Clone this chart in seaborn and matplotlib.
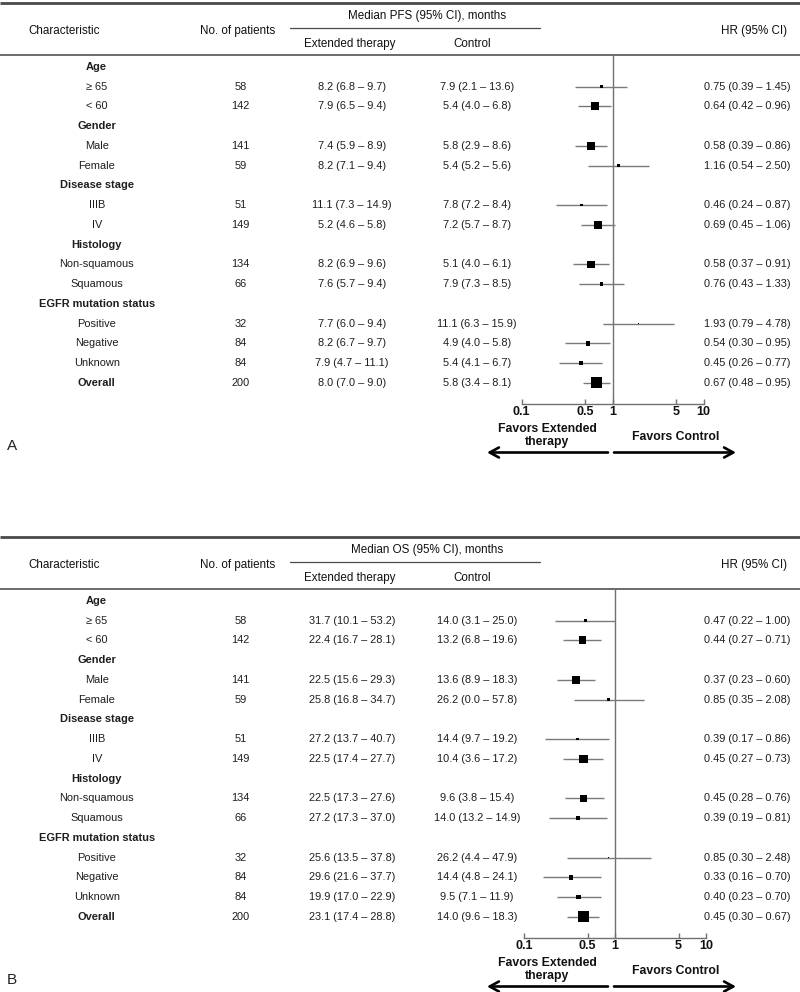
import matplotlib
matplotlib.use('Agg')
import matplotlib.pyplot as plt
import seaborn as sns
import pandas as pd
import numpy as np
from matplotlib import font_manager

sns.set_theme(style='white')
_names = {f.name for f in font_manager.fontManager.ttflist}
BASE = 'Liberation Sans' if 'Liberation Sans' in _names else 'DejaVu Sans'
NARROW = 'Liberation Sans Narrow' if 'Liberation Sans Narrow' in _names else BASE
plt.rcParams['font.family'] = [BASE, 'DejaVu Sans']

# ---------------- data ----------------
labels = ['Age', '\u2265 65', '< 60', 'Gender', 'Male', 'Female', 'Disease stage', 'IIIB', 'IV',
          'Histology', 'Non-squamous', 'Squamous', 'EGFR mutation status', 'Positive',
          'Negative', 'Unknown', 'Overall']
bold_rows = ['Age', 'Gender', 'Disease stage', 'Histology', 'EGFR mutation status', 'Overall']
n_patients = ['', '58', '142', '', '141', '59', '', '51', '149', '', '134', '66', '', '32', '84', '84', '200']

pfs_ext = ['8.2 (6.8 \u2013 9.7)', '7.9 (6.5 \u2013 9.4)', '7.4 (5.9 \u2013 8.9)', '8.2 (7.1 \u2013 9.4)',
           '11.1 (7.3 \u2013 14.9)', '5.2 (4.6 \u2013 5.8)', '8.2 (6.9 \u2013 9.6)', '7.6 (5.7 \u2013 9.4)',
           '7.7 (6.0 \u2013 9.4)', '8.2 (6.7 \u2013 9.7)', '7.9 (4.7 \u2013 11.1)', '8.0 (7.0 \u2013 9.0)']
pfs_ctrl = ['7.9 (2.1 \u2013 13.6)', '5.4 (4.0 \u2013 6.8)', '5.8 (2.9 \u2013 8.6)', '5.4 (5.2 \u2013 5.6)',
            '7.8 (7.2 \u2013 8.4)', '7.2 (5.7 \u2013 8.7)', '5.1 (4.0 \u2013 6.1)', '7.9 (7.3 \u2013 8.5)',
            '11.1 (6.3 \u2013 15.9)', '4.9 (4.0 \u2013 5.8)', '5.4 (4.1 \u2013 6.7)', '5.8 (3.4 \u2013 8.1)']
pfs_hr = [0.75, 0.64, 0.58, 1.16, 0.46, 0.69, 0.58, 0.76, 1.93, 0.54, 0.45, 0.67]
pfs_lo = [0.39, 0.42, 0.39, 0.54, 0.24, 0.45, 0.37, 0.43, 0.79, 0.30, 0.26, 0.48]
pfs_hi = [1.45, 0.96, 0.86, 2.50, 0.87, 1.06, 0.91, 1.33, 4.78, 0.95, 0.77, 0.95]

os_ext = ['31.7 (10.1 \u2013 53.2)', '22.4 (16.7 \u2013 28.1)', '22.5 (15.6 \u2013 29.3)', '25.8 (16.8 \u2013 34.7)',
          '27.2 (13.7 \u2013 40.7)', '22.5 (17.4 \u2013 27.7)', '22.5 (17.3 \u2013 27.6)', '27.2 (17.3 \u2013 37.0)',
          '25.6 (13.5 \u2013 37.8)', '29.6 (21.6 \u2013 37.7)', '19.9 (17.0 \u2013 22.9)', '23.1 (17.4 \u2013 28.8)']
os_ctrl = ['14.0 (3.1 \u2013 25.0)', '13.2 (6.8 \u2013 19.6)', '13.6 (8.9 \u2013 18.3)', '26.2 (0.0 \u2013 57.8)',
           '14.4 (9.7 \u2013 19.2)', '10.4 (3.6 \u2013 17.2)', '9.6 (3.8 \u2013 15.4)', '14.0 (13.2 \u2013 14.9)',
           '26.2 (4.4 \u2013 47.9)', '14.4 (4.8 \u2013 24.1)', '9.5 (7.1 \u2013 11.9)', '14.0 (9.6 \u2013 18.3)']
os_hr = [0.47, 0.44, 0.37, 0.85, 0.39, 0.45, 0.45, 0.39, 0.85, 0.33, 0.40, 0.45]
os_lo = [0.22, 0.27, 0.23, 0.35, 0.17, 0.27, 0.28, 0.19, 0.30, 0.16, 0.23, 0.30]
os_hi = [1.00, 0.71, 0.60, 2.08, 0.86, 0.73, 0.76, 0.81, 2.48, 0.70, 0.70, 0.67]

x_ticks = [0.1, 0.5, 1, 5, 10]
x_ticklabels = ['0.1', '0.5', '1', '5', '10']

# ---------------- layout ----------------
W, H = 800, 992
fig = plt.figure(figsize=(W / 100, H / 100), dpi=100)
fig.patch.set_facecolor('white')

bg = fig.add_axes([0, 0, 1, 1])
bg.set_xlim(0, W)
bg.set_ylim(H, 0)
bg.axis('off')

GRAY = '#707070'
TXT = '#1e1e1e'
FS = 7.9


def panel(off, x0, x1, endpoint, ext, ctrl, hr, lo, hi, letter):
    y_h = 55 + off        # header bottom line
    y_a = 403.7 + off     # axis line
    y_r0 = 66.8 + off
    dy = 19.75
    ytop = (y_h - y_r0) / dy
    ybot = (y_a - y_r0) / dy
    rect_y = 1 - y_a / H
    rect_h = (y_a - y_h) / H

    tab = fig.add_axes([0, rect_y, 1, rect_h])
    tab.set_xlim(0, W)
    tab.set_ylim(ybot, ytop)
    tab.axis('off')

    fax = fig.add_axes([x0 / W, rect_y, (x1 - x0) / W, rect_h])
    fax.set_facecolor('none')
    fax.set_xscale('log')
    fax.set_xlim(0.1, 10)
    fax.set_ylim(ybot, ytop)

    # header
    bg.plot([0, W], [2.5 + off, 2.5 + off], color='#4a4a4a', lw=2.0, solid_capstyle='butt')
    bg.plot([0, W], [y_h, y_h], color='#6a6a6a', lw=1.4, solid_capstyle='butt')
    bg.plot([290, 540], [27.5 + off, 27.5 + off], color='#4a4a4a', lw=0.9)
    hkw = dict(ha='center', va='center', fontsize=8.4, family=[NARROW, BASE], color='#111111')
    bg.text(427, 16 + off, f'Median {endpoint} (95% CI), months', **hkw)
    bg.text(64, 31 + off, 'Characteristic', **hkw)
    bg.text(238, 31 + off, 'No. of patients', **hkw)
    bg.text(754, 31 + off, 'HR (95% CI)', **hkw)
    bg.text(350, 44 + off, 'Extended therapy', **hkw)
    bg.text(472, 44 + off, 'Control', **hkw)

    # table body
    data_rows = [i for i, n in enumerate(n_patients) if n != '']
    for i, lab in enumerate(labels):
        tab.text(96.7, i, lab, ha='center', va='center', fontsize=FS, color=TXT,
                 fontweight='bold' if lab in bold_rows else 'normal')
        if n_patients[i]:
            tab.text(240.7, i, n_patients[i], ha='center', va='center', fontsize=FS, color=TXT)
    for k, i in enumerate(data_rows):
        tab.text(352, i, ext[k], ha='center', va='center', fontsize=FS, color=TXT)
        tab.text(477, i, ctrl[k], ha='center', va='center', fontsize=FS, color=TXT)
        tab.text(747, i, f'{hr[k]:.2f} ({lo[k]:.2f} \u2013 {hi[k]:.2f})', ha='center', va='center',
                 fontsize=FS, color=TXT)

    # forest
    df = pd.DataFrame({'hr': hr, 'lo': lo, 'hi': hi, 'row': data_rows,
                       'n': [int(n_patients[i]) for i in data_rows]})
    df['area'] = (df['n'] * 0.055 * 0.72) ** 2
    fax.axvline(1, color=GRAY, lw=1.0, zorder=1)
    fax.hlines(df['row'], df['lo'], df['hi'], color='#7a7a7a', lw=1.0, zorder=2)
    amin, amax = df['area'].min(), df['area'].max()
    sns.scatterplot(data=df, x='hr', y='row', size='area', sizes=(amin, amax), size_norm=(amin, amax),
                    marker='s', color='black', linewidth=0, legend=False, ax=fax, zorder=3)
    fax.set_xlabel('')
    fax.set_ylabel('')
    for s in ['top', 'left', 'right']:
        fax.spines[s].set_visible(False)
    fax.spines['bottom'].set_color(GRAY)
    fax.spines['bottom'].set_linewidth(1.0)
    fax.set_yticks([])
    fax.set_xticks(x_ticks)
    fax.set_xticklabels(x_ticklabels)
    fax.minorticks_off()
    fax.tick_params(axis='x', direction='in', length=3.5, width=1.0, color=GRAY, pad=2.0,
                    labelsize=9, bottom=True)
    for t in fax.get_xticklabels():
        t.set_fontweight('bold')
        t.set_color('#111111')

    # favors
    bg.text(547, 435.5 + off, 'Favors Extended\ntherapy', ha='center', va='center', fontsize=8.8,
            fontweight='bold', color='#111111', linespacing=1.2)
    bg.text(676, 437 + off, 'Favors Control', ha='center', va='center', fontsize=8.8,
            fontweight='bold', color='#111111')
    ya = 452.5 + off
    akw = dict(arrowstyle='->,head_length=0.55,head_width=0.3', lw=1.9, color='black',
               shrinkA=0, shrinkB=0)
    bg.annotate('', xy=(487, ya), xytext=(608, ya), arrowprops=akw)
    bg.annotate('', xy=(736, ya), xytext=(614, ya), arrowprops=akw)
    bg.text(12, 446 + off, letter, ha='center', va='center', fontsize=11, color='#222222')


panel(0, 521.5, 703.5, 'PFS', pfs_ext, pfs_ctrl, pfs_hr, pfs_lo, pfs_hi, 'A')
panel(534, 524, 706, 'OS', os_ext, os_ctrl, os_hr, os_lo, os_hi, 'B')

fig.savefig('out.png', dpi=100, facecolor='white')
